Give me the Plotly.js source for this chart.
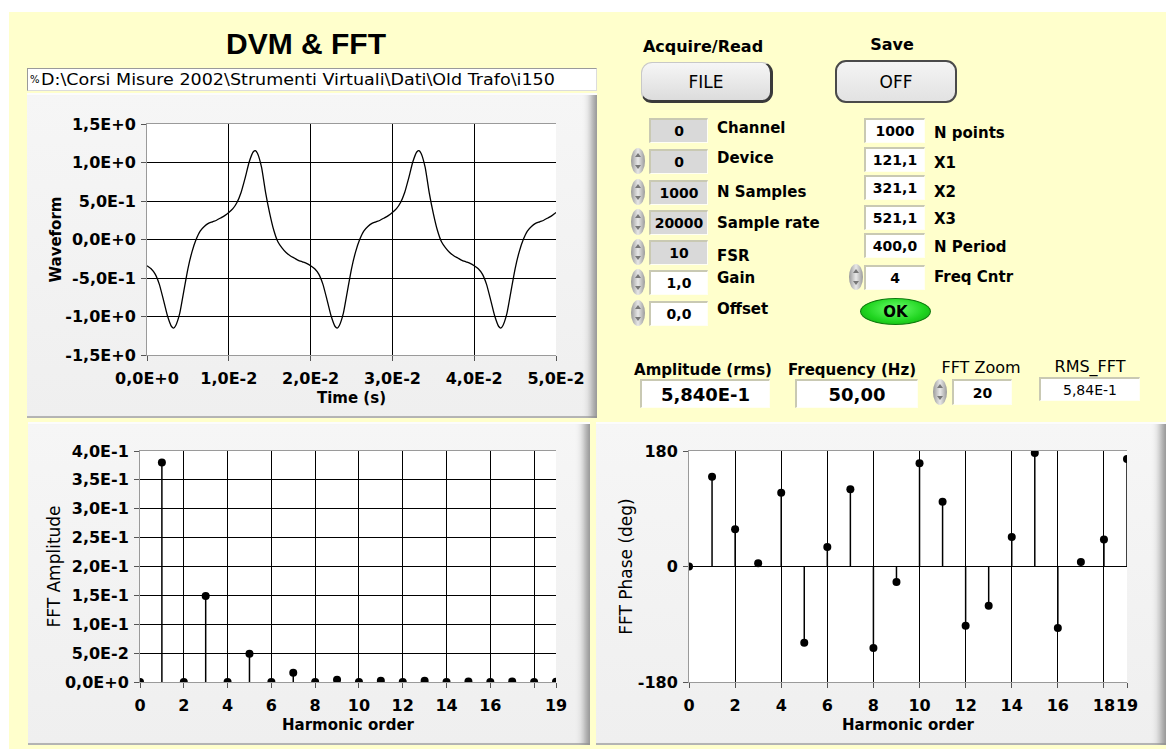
<!DOCTYPE html>
<html><head><meta charset="utf-8">
<script src="https://cdn.plot.ly/plotly-3.0.1.min.js"></script>
<style>
html,body{margin:0;padding:0;}
body{width:1166px;height:749px;overflow:hidden;background:#fff;position:relative;font-family:"DejaVu Sans",sans-serif;}
#bg{position:absolute;left:9px;top:12px;right:0;bottom:0;background:#ffffcc;}
.panel{position:absolute;background:linear-gradient(#f6f6f6,#efefef);box-shadow:inset 0 2px 0 #fcfcfc, inset -12px 0 9px -7px #8e8e8e, inset 0 -2px 0 #b5b5b5;}
.lbl{position:absolute;white-space:nowrap;color:#000;line-height:1;}
.box{position:absolute;box-sizing:border-box;background:#fff;border-top:2px solid #c9c9b3;border-left:2px solid #c9c9b3;border-right:1px solid #fffff4;border-bottom:1px solid #fffff4;display:flex;align-items:center;justify-content:center;font-weight:bold;font-size:14px;color:#000;}
.gray{background:#d9d9d9;}
.spin{position:absolute;width:14px;height:26px;border-radius:7px/13px;background:linear-gradient(90deg,#9a9a9a,#e8e8e8 50%,#9a9a9a);}
.spin:before,.spin:after{content:"";position:absolute;left:4px;border-left:3px solid transparent;border-right:3px solid transparent;}
.spin:before{top:5px;border-bottom:4px solid #777;}
.spin:after{bottom:5px;border-top:4px solid #777;}
.btn{position:absolute;box-sizing:border-box;border-radius:11px;display:flex;align-items:center;justify-content:center;font-size:17px;color:#000;}
#plot{position:absolute;left:0;top:0;width:1166px;height:749px;}
</style></head><body>
<div id="bg"></div>
<div id="panels"></div>
<div id="plot"></div>
<div id="ui"></div>
<script>
// ---------------- data ----------------
const timeS = [
 0,0.0005,0.001,0.0015,0.002,0.0025,0.003,0.00325,0.0035,0.004,0.0045,0.005,0.0055,0.006,0.0065,0.007,0.0075,0.008,0.0085,0.009,0.0095,
 0.01,0.0105,0.011,0.0115,0.012,0.0125,0.013,0.01325,0.0135,0.014,0.0145,0.015,0.0155,0.016,0.0165,0.017,0.0175,0.018,0.0185,0.019,0.0195,
 0.02,0.0205,0.021,0.0215,0.022,0.0225,0.023,0.02325,0.0235,0.024,0.0245,0.025,0.0255,0.026,0.0265,0.027,0.0275,0.028,0.0285,0.029,0.0295,
 0.03,0.0305,0.031,0.0315,0.032,0.0325,0.033,0.03325,0.0335,0.034,0.0345,0.035,0.0355,0.036,0.0365,0.037,0.0375,0.038,0.0385,0.039,0.0395,
 0.04,0.0405,0.041,0.0415,0.042,0.0425,0.043,0.04325,0.0435,0.044,0.0445,0.045,0.0455,0.046,0.0465,0.047,0.0475,0.048,0.0485,0.049,0.0495,0.05];
const waveform = [
 -0.34,-0.38,-0.45,-0.58,-0.78,-0.99,-1.13,-1.15,-1.12,-0.96,-0.67,-0.38,-0.16,0.00,0.11,0.17,0.21,0.23,0.25,0.28,0.31,
 0.35,0.40,0.48,0.61,0.80,1.01,1.14,1.155,1.12,0.94,0.61,0.34,0.12,-0.03,-0.11,-0.17,-0.21,-0.24,-0.27,-0.29,-0.31,
 -0.34,-0.38,-0.45,-0.58,-0.78,-0.99,-1.13,-1.15,-1.12,-0.96,-0.67,-0.38,-0.16,0.00,0.11,0.17,0.21,0.23,0.25,0.28,0.31,
 0.35,0.40,0.48,0.61,0.80,1.01,1.14,1.155,1.12,0.94,0.61,0.34,0.12,-0.03,-0.11,-0.17,-0.21,-0.24,-0.27,-0.29,-0.31,
 -0.34,-0.38,-0.45,-0.58,-0.78,-0.99,-1.13,-1.15,-1.12,-0.96,-0.67,-0.38,-0.16,0.00,0.11,0.17,0.21,0.23,0.25,0.28,0.31,0.35];

const harmonics = [0,1,2,3,4,5,6,7,8,9,10,11,12,13,14,15,16,17,18,19];
const fftAmplitude = [0,0.38,0,0.149,0,0.049,0,0.016,0,0.004,0,0.002,0,0.002,0,0.001,0,0.001,0,0.0005];
const fftPhase = [0,140,58,5,115,-119,30.5,120.5,-127,-24,161,101,-92.5,-61,46,177,-96,7,42,167.5];

const waveXTicks = [0,0.01,0.02,0.03,0.04,0.05];
const waveXLabels = ['0,0E+0','1,0E-2','2,0E-2','3,0E-2','4,0E-2','5,0E-2'];
const waveYTicks = [-1.5,-1,-0.5,0,0.5,1,1.5];
const waveYLabels = ['-1,5E+0','-1,0E+0','-5,0E-1','0,0E+0','5,0E-1','1,0E+0','1,5E+0'];
const ampYTicks = [0,0.05,0.1,0.15,0.2,0.25,0.3,0.35,0.4];
const ampYLabels = ['0,0E+0','5,0E-2','1,0E-1','1,5E-1','2,0E-1','2,5E-1','3,0E-1','3,5E-1','4,0E-1'];
const harmTicks = [0,2,4,6,8,10,12,14,16,18,19];
const ampXLabels = ['0','2','4','6','8','10','12','14','16','','19'];
const phaseXLabels = ['0','2','4','6','8','10','12','14','16','18','19'];
const phaseYTicks = [-180,0,180];
const phaseYLabels = ['-180','0','180'];

// ---------------- panel / controls ----------------
const panels = document.getElementById('panels');
function panel(l,t,r,b){const d=document.createElement('div');d.className='panel';
  Object.assign(d.style,{left:l+'px',top:t+'px',width:(r-l)+'px',height:(b-t)+'px'});panels.appendChild(d);}
panel(27,93,597,418); panel(28,422,590,745); panel(596,422,1166,745);

const ui = document.getElementById('ui');
function text(s,x,y,o){o=o||{};const d=document.createElement('div');d.className='lbl';d.textContent=s;
  d.style.left=x+'px';d.style.top=y+'px';d.style.fontSize=(o.size||15)+'px';d.style.fontWeight=o.bold===false?'normal':'bold';
  if(o.family)d.style.fontFamily=o.family;
  d.style.transform=o.left?'translate(0,-50%)':'translate(-50%,-50%)';ui.appendChild(d);
  if(o.fit){const w=d.getBoundingClientRect().width;d.style.transformOrigin='left center';
    d.style.transform='translate(0,-50%) scaleX('+(o.fit/w).toFixed(3)+')';}
  return d;}
function box(s,l,t,r,b,o){o=o||{};const d=document.createElement('div');d.className='box'+(o.gray?' gray':'');d.textContent=s;
  Object.assign(d.style,{left:l+'px',top:t+'px',width:(r-l)+'px',height:(b-t)+'px'});
  if(o.size)d.style.fontSize=o.size+'px'; if(o.bold===false)d.style.fontWeight='normal';ui.appendChild(d);return d;}
function spin(cx,cy){const d=document.createElement('div');d.className='spin';d.style.left=(cx-7)+'px';d.style.top=(cy-13)+'px';ui.appendChild(d);}

// title and path
text('DVM & FFT',306,44,{size:30,family:'Liberation Sans, Arial, sans-serif'});
const pb=document.createElement('div');
Object.assign(pb.style,{position:'absolute',left:'27px',top:'68px',width:'570px',height:'23px',background:'#fff',boxSizing:'border-box',borderTop:'1px solid #9a9a9a',borderLeft:'1px solid #9a9a9a',borderBottom:'1px solid #dcdcdc',borderRight:'1px solid #dcdcdc'});
ui.appendChild(pb);
text('%',30,80,{size:10,bold:false,left:true});
text('D:\\Corsi Misure 2002\\Strumenti Virtuali\\Dati\\Old Trafo\\i150',41,80,{size:16,bold:false,left:true,fit:514});

// buttons
text('Acquire/Read',703,47,{size:16});
text('Save',892,45,{size:16});
const b1=document.createElement('div');b1.className='btn';b1.textContent='FILE';
Object.assign(b1.style,{left:'641px',top:'62px',width:'132px',height:'41px',background:'linear-gradient(#f6f6f6,#dcdcdc)',borderTop:'1px solid #c8c8c8',borderLeft:'1px solid #c8c8c8',borderRight:'3px solid #3a3a3a',borderBottom:'3px solid #3a3a3a'});ui.appendChild(b1);
const b2=document.createElement('div');b2.className='btn';b2.textContent='OFF';
Object.assign(b2.style,{left:'835px',top:'60px',width:'122px',height:'43px',background:'linear-gradient(#f4f4f4,#e2e2e2)',border:'2px solid #4a4a4a'});ui.appendChild(b2);

// left column
const leftRows=[['0','Channel',130,128,true,false],['0','Device',161,158,true,true],['1000','N Samples',192,192,true,true],
 ['20000','Sample rate',222,223,true,true],['10','FSR',252,256,true,true],['1,0','Gain',282,278,false,true],['0,0','Offset',313,309,false,true]];
leftRows.forEach(r=>{box(r[0],649,r[2]-12,708,r[2]+13,{gray:r[4]}); text(r[1],717,r[3],{left:true}); if(r[5])spin(638,r[2]);});
// right column
const rightRows=[['1000','N points',130,133],['121,1','X1',159,163],['321,1','X2',187,192],['521,1','X3',217,219],['400,0','N Period',245,247],['4','Freq Cntr',277,277]];
rightRows.forEach(r=>{box(r[0],864,r[2]-12,925,r[2]+13,{}); text(r[1],934,r[3],{left:true});});
spin(856,277);
const ok=document.createElement('div');
Object.assign(ok.style,{position:'absolute',left:'860px',top:'298px',width:'71px',height:'27px',borderRadius:'50%',background:'radial-gradient(ellipse at 50% 40%,#6cff6c,#1fd41f 60%,#12a012)',border:'1px solid #0b7a0b',boxSizing:'border-box',display:'flex',alignItems:'center',justifyContent:'center',fontWeight:'bold',fontSize:'15px'});
ok.textContent='OK';ui.appendChild(ok);

// bottom indicator row
text('Amplitude (rms)',703,370,{size:15});
text('Frequency (Hz)',852,370,{size:15});
text('FFT Zoom',981,368,{size:16,bold:false});
text('RMS_FFT',1090,367,{size:16,bold:false});
box('5,840E-1',640,379,770,408,{size:18});
box('50,00',795,379,918,408,{size:18});
spin(940,392);
box('20',952,379,1012,405,{size:14});
box('5,84E-1',1039,377,1140,401,{size:14,bold:false});

// ---------------- plots ----------------
const W=1166,H=749;
const dxr=(a,b)=>[a/W,b/W];
const dyr=(t,b)=>[1-b/H,1-t/H];
function stems(xs,ys){const x=[],y=[];xs.forEach((v,i)=>{x.push(v,v,null);y.push(0,ys[i],null);});return {x,y};}
const aS=stems(harmonics,fftAmplitude), pS=stems(harmonics,fftPhase);

const tickFont={family:'DejaVu Sans',size:16,weight:'bold',color:'#000'};
const base={ticks:'outside',ticklen:5,tickcolor:'#555',tickwidth:1,showline:true,linecolor:'#9a9a9a',linewidth:1,
  zeroline:false,showgrid:true,gridcolor:'#000',gridwidth:1,tickfont:tickFont,tickangle:0,tickmode:'array',fixedrange:true,automargin:false};

const traces=[
 {x:timeS,y:waveform,mode:'lines',line:{color:'#000',width:1.3,shape:'spline',smoothing:0.5},xaxis:'x',yaxis:'y',hoverinfo:'skip'},
 {x:aS.x,y:aS.y,mode:'lines',line:{color:'#000',width:1.5},xaxis:'x2',yaxis:'y2',hoverinfo:'skip'},
 {x:harmonics,y:fftAmplitude,mode:'markers',marker:{color:'#000',size:8},xaxis:'x2',yaxis:'y2',hoverinfo:'skip'},
 {x:pS.x,y:pS.y,mode:'lines',line:{color:'#000',width:1.5},xaxis:'x3',yaxis:'y3',hoverinfo:'skip'},
 {x:harmonics,y:fftPhase,mode:'markers',marker:{color:'#000',size:8},xaxis:'x3',yaxis:'y3',hoverinfo:'skip'}
];

const layout={
 width:W,height:H,margin:{l:0,r:0,t:0,b:0},paper_bgcolor:'rgba(0,0,0,0)',plot_bgcolor:'#fff',showlegend:false,
 font:{family:'DejaVu Sans',color:'#000'},
 xaxis:Object.assign({},base,{domain:dxr(147,556),anchor:'y',range:[0,0.05],tickvals:waveXTicks,ticktext:waveXLabels,ticklabelstandoff:4,mirror:true,
   title:{text:'Time (s)',font:{family:'DejaVu Sans',size:15,weight:'bold'},standoff:5}}),
 yaxis:Object.assign({},base,{domain:dyr(124,355),anchor:'x',range:[-1.5,1.5],tickvals:waveYTicks,ticktext:waveYLabels,ticklabelstandoff:2,
   title:{text:'Waveform',font:{family:'DejaVu Sans',size:15,weight:'bold'},standoff:0}}),
 xaxis2:Object.assign({},base,{domain:dxr(140,556),anchor:'y2',range:[0,19],tickvals:harmTicks,ticktext:ampXLabels,ticklabelstandoff:4,mirror:true,
   title:{text:'Harmonic order',font:{family:'DejaVu Sans',size:15,weight:'bold'},standoff:5}}),
 yaxis2:Object.assign({},base,{domain:dyr(451,682),anchor:'x2',range:[0,0.4],tickvals:ampYTicks,ticktext:ampYLabels,ticklabelstandoff:2,
   title:{text:'FFT Amplitude',font:{family:'DejaVu Sans',size:17},standoff:0}}),
 xaxis3:Object.assign({},base,{domain:dxr(689,1127),anchor:'y3',range:[0,19],tickvals:harmTicks,ticktext:phaseXLabels,ticklabelstandoff:4,mirror:true,
   title:{text:'Harmonic order',font:{family:'DejaVu Sans',size:15,weight:'bold'},standoff:5}}),
 yaxis3:Object.assign({},base,{domain:dyr(451,682),anchor:'x3',range:[-180,180],tickvals:phaseYTicks,ticktext:phaseYLabels,ticklabelstandoff:2,
   showgrid:false,zeroline:true,zerolinecolor:'#000',zerolinewidth:1.5,
   title:{text:'FFT Phase (deg)',font:{family:'DejaVu Sans',size:17},standoff:0}})
};
Plotly.newPlot('plot',traces,layout,{displayModeBar:false,staticPlot:true});
</script>
</body></html>
